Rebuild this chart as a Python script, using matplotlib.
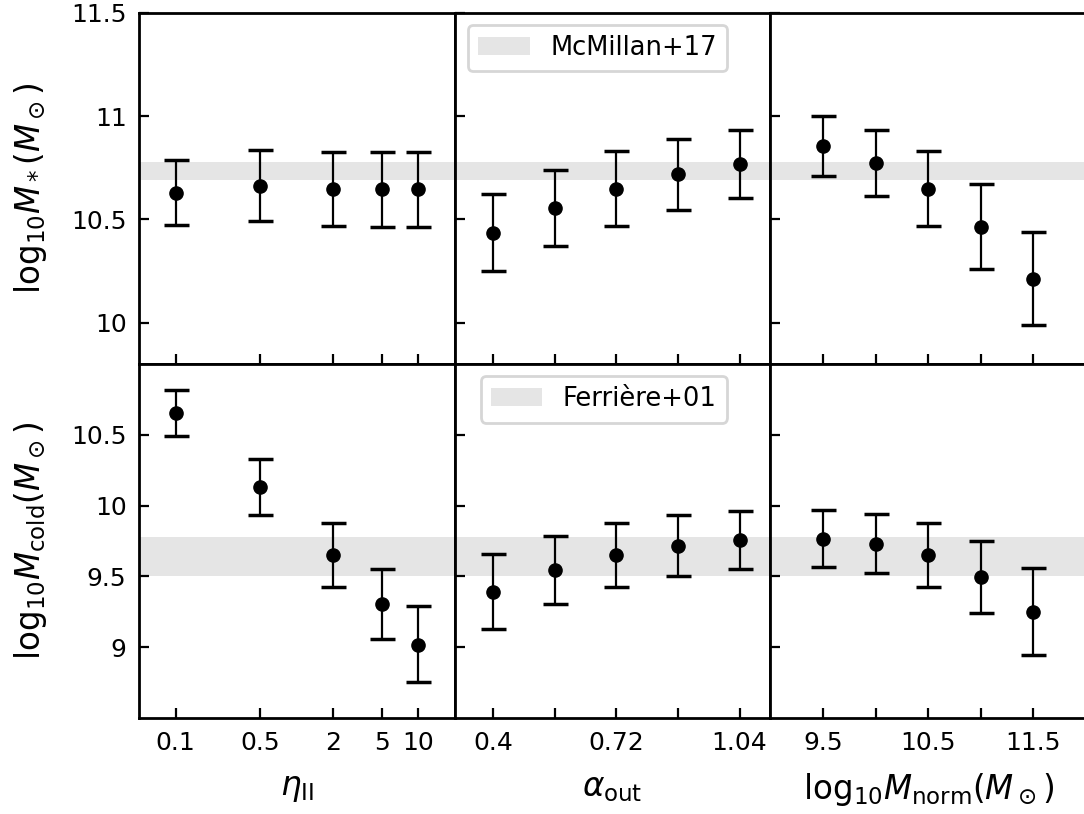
import matplotlib
matplotlib.use("Agg")
import matplotlib.pyplot as plt
import numpy as np

# ---------------- data ----------------
eta_x = [0.1, 0.5, 2, 5, 10]
alpha_x = [0.4, 0.56, 0.72, 0.88, 1.04]
mnorm_x = [9.5, 10.0, 10.5, 11.0, 11.5]

# stellar mass (top row): median, lower, upper
mstar_eta = [10.63, 10.663, 10.649, 10.646, 10.646]
mstar_eta_lo = [10.472, 10.493, 10.470, 10.464, 10.464]
mstar_eta_hi = [10.787, 10.836, 10.828, 10.825, 10.825]

mstar_alpha = [10.436, 10.557, 10.649, 10.720, 10.770]
mstar_alpha_lo = [10.251, 10.372, 10.470, 10.547, 10.605]
mstar_alpha_hi = [10.623, 10.742, 10.831, 10.892, 10.934]

mstar_mnorm = [10.855, 10.774, 10.649, 10.464, 10.214]
mstar_mnorm_lo = [10.709, 10.615, 10.470, 10.261, 9.990]
mstar_mnorm_hi = [11.000, 10.932, 10.831, 10.670, 10.441]

# cold gas mass (bottom row)
mcold_eta = [10.654, 10.130, 9.649, 9.304, 9.019]
mcold_eta_lo = [10.490, 9.936, 9.424, 9.056, 8.754]
mcold_eta_hi = [10.813, 10.330, 9.877, 9.549, 9.290]

mcold_alpha = [9.391, 9.545, 9.651, 9.717, 9.757]
mcold_alpha_lo = [9.127, 9.302, 9.422, 9.502, 9.552]
mcold_alpha_hi = [9.656, 9.787, 9.875, 9.934, 9.964]

mcold_mnorm = [9.766, 9.731, 9.649, 9.495, 9.252]
mcold_mnorm_lo = [9.568, 9.523, 9.422, 9.238, 8.948]
mcold_mnorm_hi = [9.969, 9.939, 9.877, 9.752, 9.557]

# observational bands
mcmillan_band = [10.69, 10.78]
ferriere_band = [9.50, 9.78]

eta_ticklabels = ["0.1", "0.5", "2", "5", "10"]
alpha_ticklabels = ["0.4", "", "0.72", "", "1.04"]
mnorm_ticklabels = ["9.5", "", "10.5", "", "11.5"]

top_yticks = [10, 10.5, 11, 11.5]
top_yticklabels = ["10", "10.5", "11", "11.5"]
bot_yticks = [9, 9.5, 10, 10.5]
bot_yticklabels = ["9", "9.5", "10", "10.5"]

# ---------------- figure ----------------
W, H = 1084, 814
fig = plt.figure(figsize=(W / 100, H / 100), dpi=100)
left, right = 139 / W, 1086 / W
top, bottom = 1 - 13 / H, 1 - 718 / H
gs = fig.add_gridspec(2, 3, left=left, right=right, top=top, bottom=bottom,
                      wspace=0, hspace=0, height_ratios=[351, 354])
axes = np.empty((2, 3), dtype=object)
for r in range(2):
    for c in range(3):
        axes[r, c] = fig.add_subplot(gs[r, c])

xs = [eta_x, alpha_x, mnorm_x]
top_data = [(mstar_eta, mstar_eta_lo, mstar_eta_hi),
            (mstar_alpha, mstar_alpha_lo, mstar_alpha_hi),
            (mstar_mnorm, mstar_mnorm_lo, mstar_mnorm_hi)]
bot_data = [(mcold_eta, mcold_eta_lo, mcold_eta_hi),
            (mcold_alpha, mcold_alpha_lo, mcold_alpha_hi),
            (mcold_mnorm, mcold_mnorm_lo, mcold_mnorm_hi)]
xlims = [(0.05, 20), (0.30, 1.12), (9.0, 12.0)]
xticklabels = [eta_ticklabels, alpha_ticklabels, mnorm_ticklabels]
xlabels = [r"$\eta_{\rm II}$", r"$\alpha_{\rm out}$",
           r"$\mathrm{log}_{10}M_{\rm norm}(M_\odot)$"]

for r, (data, band, ylim, yt, ytl) in enumerate([
        (top_data, mcmillan_band, (9.8, 11.5), top_yticks, top_yticklabels),
        (bot_data, ferriere_band, (8.5, 11.0), bot_yticks, bot_yticklabels)]):
    for c in range(3):
        ax = axes[r, c]
        y, lo, hi = data[c]
        y = np.array(y); lo = np.array(lo); hi = np.array(hi)
        band_label = "McMillan+17" if r == 0 else "Ferrière+01"
        ax.axhspan(band[0], band[1], color="gray", alpha=0.2, lw=0, label=band_label)
        ax.errorbar(xs[c], y, yerr=[y - lo, hi - y], fmt="o", color="black",
                    ms=9.5, elinewidth=1.6, capsize=9, capthick=2.5)
        if c == 0:
            ax.set_xscale("log")
        ax.set_xlim(*xlims[c])
        ax.set_xticks(xs[c])
        ax.xaxis.set_minor_locator(matplotlib.ticker.NullLocator())
        ax.set_ylim(*ylim)
        ax.set_yticks(yt)
        if r == 1:
            ax.set_xticklabels(xticklabels[c])
            ax.set_xlabel(xlabels[c], fontsize=23.5, labelpad=12)
        else:
            ax.set_xticklabels([])
        if c == 0:
            ax.set_yticklabels(ytl)
        else:
            ax.set_yticklabels([])
        ax.tick_params(direction="in", length=7, width=1.6, labelsize=18, pad=9,
                       top=False, right=False)
        for s in ax.spines.values():
            s.set_linewidth(2.0)
        if c == 1:
            leg = ax.legend(loc="upper right", bbox_to_anchor=(0.863, 0.966),
                            borderaxespad=0, fontsize=18.5, fancybox=True)
            leg.get_frame().set_linewidth(2.0)

axes[0, 0].set_ylabel(r"$\mathrm{log}_{10}M_*(M_\odot)$", fontsize=23.5, labelpad=16)
axes[1, 0].set_ylabel(r"$\mathrm{log}_{10}M_{\rm cold}(M_\odot)$", fontsize=23.5, labelpad=16)

fig.savefig("out.png", dpi=100)
